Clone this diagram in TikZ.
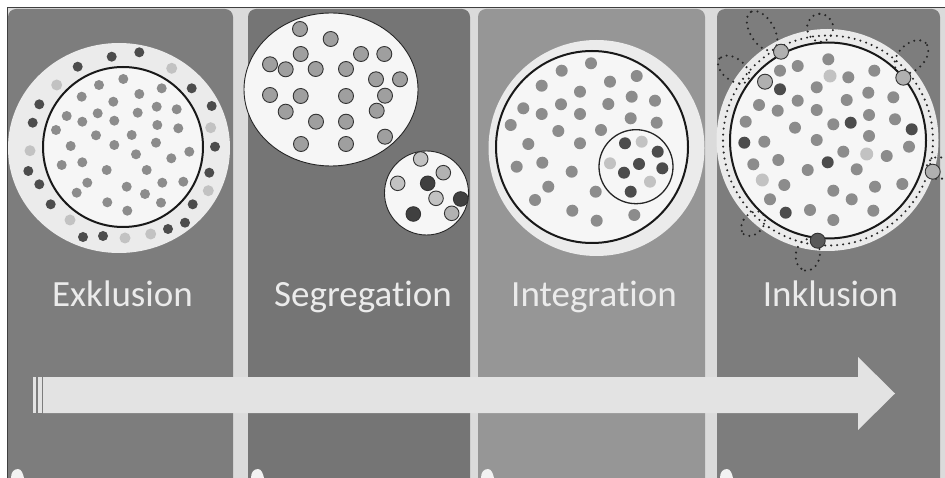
\documentclass[tikz,border=0pt]{standalone}
\usepackage{fontspec}
\setmainfont{Carlito}[Ligatures=NoCommon]
\definecolor{sepc}{gray}{0.86}
\definecolor{pA}{gray}{0.49}
\definecolor{pB}{gray}{0.46}
\definecolor{pC}{gray}{0.59}
\definecolor{pD}{gray}{0.49}
\definecolor{ringc}{gray}{0.92}
\definecolor{innc}{gray}{0.965}
\definecolor{dmid}{gray}{0.55}
\definecolor{ddark}{gray}{0.30}
\definecolor{dlight}{gray}{0.76}
\definecolor{arrc}{gray}{0.89}
\definecolor{txtc}{gray}{0.92}
\begin{document}
\begin{tikzpicture}[x=1pt,y=-1pt,
  lbl/.style={text=txtc, font=\fontsize{37}{40}\selectfont, anchor=base, inner sep=0pt},
  panel/.style={rounded corners=8pt},
  bigc/.style={draw=black!90, line width=2pt},
  thinc/.style={draw=black!85, line width=0.9pt},
  odot/.style={draw=black!80, line width=0.9pt},
  petal/.style={draw=black!85, line width=2.3pt, line cap=round, dash pattern=on 0pt off 6pt}]
\useasboundingbox (0,0) rectangle (945,478);
\fill[white] (0,0) rectangle (945,478);
\fill[sepc] (7,8) rectangle (945,478);
\draw[black!75, line width=1pt] (7,478) -- (7,8) -- (945,8);
% panels
\fill[pA, panel] (8,9) rectangle (233,500);
\fill[pB, panel] (248,9) rectangle (470,500);
\fill[pC, panel] (478,9) rectangle (705,500);
\fill[pD, panel] (717,9) rectangle (940,500);
% bottom corner highlights
\foreach \px in {8,248,478,717}
  \fill[white!90!gray] (\px+3,478) .. controls (\px+3,472) and (\px+6,469) .. (\px+10,469)
    .. controls (\px+13,469) and (\px+15,473) .. (\px+16,478) -- cycle;
% ---------------- Panel 1: Exklusion
\fill[ringc] (119,148) ellipse[x radius=111pt, y radius=105pt];
\filldraw[fill=innc, bigc] (123,147) circle[radius=80pt];
\foreach \x/\y in {123.3/79, 99/85, 161.7/88.3, 81.7/96.7, 139.3/94, 113.3/101.7, 156.7/106.7,
  176.7/109.3, 97.7/113.3, 66.7/116, 82.3/121.7, 114.3/120.7, 137.7/112.7, 56/130, 157.3/125,
  178.3/128.3, 96/135.3, 131.7/135, 70.7/146, 114.3/145, 156/142.7, 189.3/151.7, 136/154.3,
  171.3/158.3, 61.7/165, 82.3/162.3, 106.7/170, 146.7/170, 87.3/182.7, 126.7/186.7,
  162.3/182.7, 183.3/181.7, 76.7/192.7, 145/194, 107.3/202.3, 161/202.7, 127.3/210.7}
  \fill[dmid] (\x,\y) circle[radius=5pt];
\foreach \x/\y in {111.7/56.7, 139.3/52.3, 77.7/66.7, 191.7/88.3, 39.3/104.3, 211.7/106,
  32.7/122.7, 215/146.7, 28.3/171, 209.3/172.7, 39.3/184.3, 50.7/204.3, 192.7/204.3,
  185/222.7, 83/237, 103/236, 168/229}
  \fill[ddark] (\x,\y) circle[radius=5pt];
\foreach \x/\y in {171.7/68.3, 56.7/85, 210.7/127.7, 30/150.7, 208.3/190.7, 70/220, 125/238, 150.7/234}
  \fill[dlight] (\x,\y) circle[radius=5.5pt];
% ---------------- Panel 2: Segregation
\filldraw[fill=innc, thinc] (331,89.5) ellipse[x radius=87pt, y radius=76.5pt];
\filldraw[fill=innc, thinc] (426.5,193) circle[radius=42pt];
\foreach \x/\y in {300/29, 330.7/39, 300.7/54, 361/54, 384.3/54, 270/64.3, 285.7/69.3, 315.7/69,
  346/69, 376/79.3, 400/79.3, 270/95, 300.7/96, 346/96, 385/95.7, 285.7/111.7, 376.7/110.7,
  316/121.7, 346/121.7, 385/136.7, 301/144, 346/144}
  \filldraw[fill=gray!75, odot] (\x,\y) circle[radius=7.5pt];
\foreach \x/\y in {420.7/159, 397.7/183.3, 436/198.3}
  \filldraw[fill=dlight, odot] (\x,\y) circle[radius=7.3pt];
\foreach \x/\y in {443.3/172.7, 451.7/213.3}
  \filldraw[fill=gray!60, odot] (\x,\y) circle[radius=7.3pt];
\foreach \x/\y in {427.7/183.3, 460.7/199, 413.3/214}
  \filldraw[fill=black!75, odot] (\x,\y) circle[radius=7.3pt];
% ---------------- Panel 3: Integration
\fill[ringc] (596.5,148) circle[radius=108pt];
\filldraw[fill=innc, bigc] (592,147) circle[radius=96pt];
\draw[thinc, line width=1.3pt] (636,166.7) circle[radius=37pt];
\foreach \x/\y in {591/63.3, 561.7/70.7, 636.7/76, 610/81.7, 541.7/85.7, 580/91.7, 631.7/96.7,
  655/100.7, 561/104.3, 523.3/108.3, 541.7/114, 608.3/104, 580/114, 630.7/118.3, 656.7/122.7,
  510.7/125, 601/130, 558.3/131, 528.3/144, 580/143.3, 516.7/166.7, 542.3/162.7, 571.7/171.7,
  548.3/186.7, 595.7/191.7, 535/200, 572.3/210.7, 596.7/220.7, 634.3/215}
  \fill[dmid] (\x,\y) circle[radius=6pt];
\foreach \x/\y in {625/143.3, 657.7/151.7, 639/164, 624/172.7, 662.3/168.3, 630.7/191.7}
  \fill[ddark] (\x,\y) circle[radius=6pt];
\foreach \x/\y in {641.7/141.7, 610/163.3, 650/181.7}
  \fill[dlight] (\x,\y) circle[radius=6pt];
% ---------------- Panel 4: Inklusion
\fill[ringc] (827.5,140) circle[radius=111pt];
\filldraw[fill=innc, bigc] (828,140.5) circle[radius=98pt];
\draw[petal] (828,140.5) circle[radius=105pt];
\foreach \a/\d/\L/\W in {121/128/22/12, 143/118/18/11, 94/113/14/13, 45/118/20/13,
  -14/114/12/11, -100/116/16/12, -132/112/14/10}
  \draw[petal, shift={({828+\d*cos(\a)},{140.5-\d*sin(\a)})}, rotate=\a]
    (0,0) ellipse[x radius=\L pt, y radius=\W pt];
\foreach \x/\y in {828.3/59.3, 780/70.7, 797.7/66, 848.3/77.3, 874.3/70.7, 816.7/87.3,
  868.3/92.7, 893.3/97.3, 759/105, 777.7/110.7, 797.7/100.7, 846.7/100, 816.7/110, 869/115,
  895/119.3, 745.7/121.7, 795/127.7, 833.3/124.3, 764.3/141.7, 816.7/140, 869/136, 909/146.7,
  843.3/151.7, 886.7/156, 753.3/164.3, 778.3/160, 807.7/170, 856.7/169.3, 784.3/185,
  833.3/190.7, 875/186.7, 902.3/184, 770/199.3, 851.7/199.3, 810/210, 873.3/210.7, 833.3/220}
  \fill[dmid] (\x,\y) circle[radius=6pt];
\foreach \x/\y in {780/89.3, 850.7/122.7, 911.7/129.3, 744.3/142.7, 827.7/162.3, 785.7/212.7}
  \fill[ddark] (\x,\y) circle[radius=6pt];
\foreach \x/\y in {830/76, 866.7/154, 762.3/180}
  \fill[dlight] (\x,\y) circle[radius=6.5pt];
\foreach \x/\y in {781/51.7, 765/81.7, 903.3/77.7, 932.7/171.7}
  \filldraw[fill=gray!62, odot] (\x,\y) circle[radius=7.5pt];
\filldraw[fill=black!65, odot] (817.7,240.7) circle[radius=7.5pt];
% ---------------- labels
\node[lbl] (lex) at (122.5,307) {Exklusion};
\node[lbl] (lseg) at (363,307) {Segregation};
\node[lbl] (lint) at (594,307) {Integration};
\node[lbl] (link) at (830.5,307) {Inklusion};
% ---------------- arrow
\fill[arrc] (43,377) -- (858,377) -- (858,357) -- (895,393.5) -- (858,430) -- (858,413) -- (43,413) -- cycle;
\fill[arrc] (33,377) rectangle (36,413);
\fill[arrc] (38,377) rectangle (41.5,413);
\end{tikzpicture}
\end{document}
